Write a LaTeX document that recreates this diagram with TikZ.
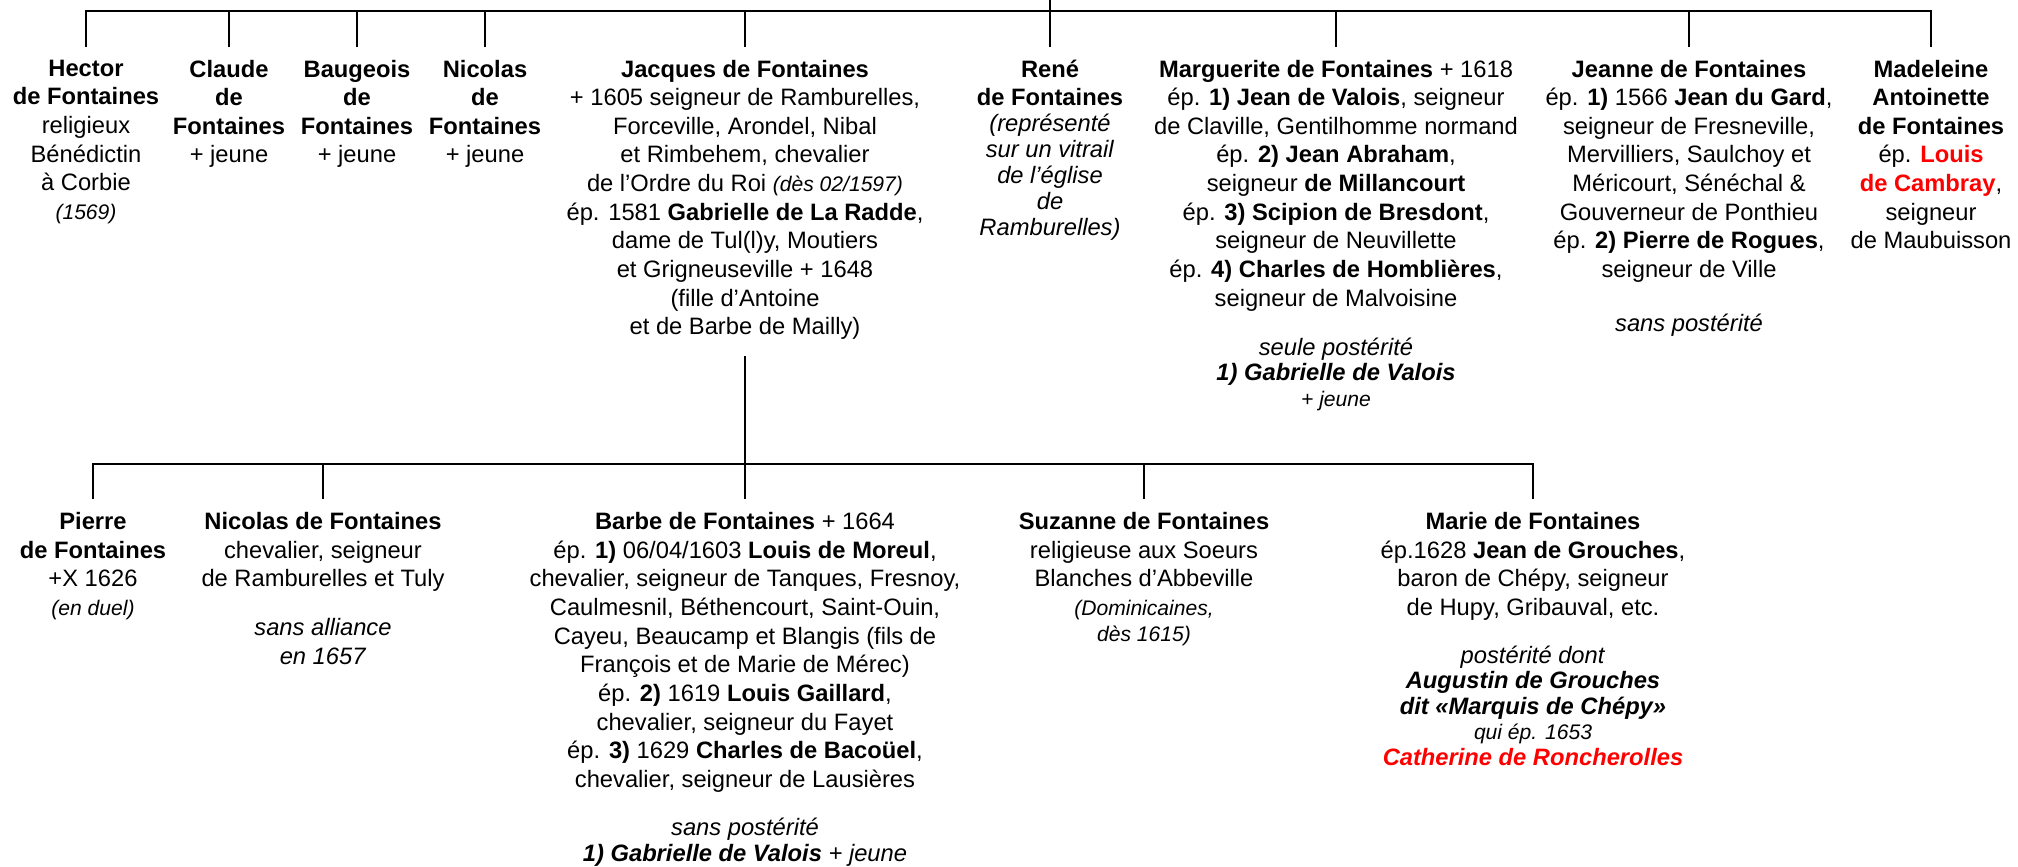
\documentclass[tikz,border=0pt]{standalone}
\usepackage{fontspec}
\setmainfont{Liberation Sans}
\usetikzlibrary{calc}
\tikzset{
  lien/.style={draw, line width=1.5pt, shorten >=7.2pt},
  personne/.style={
    anchor=north,
    align=center,
    inner sep=0pt,
    font=\fontsize{13.5pt}{16.3pt}\selectfont,
    execute at begin node=\strut},
}
\newcommand{\nota}[1]{{\fontsize{12pt}{14pt}\selectfont\itshape #1}}

\begin{document}
\begin{tikzpicture}[
    x=0.02cm, y=-0.02cm,
    rouge/.style={text=red}
    ]
    \useasboundingbox (0,0) rectangle (2018,866);

    % parents
    \coordinate (haut) at (1050,0);
    \coordinate (barre1) at (1050,11);

    % enfants
    \node[personne] (hector) at (86,59.5) {\textbf{Hector}\\ \textbf{de Fontaines}\\ religieux\\ Bénédictin\\ à Corbie\\ \nota{(1569)}};
    \node[personne] (claude) at (229,59.5) {\textbf{Claude}\\ \textbf{de}\\ \textbf{Fontaines}\\ + jeune};
    \node[personne] (baugeois) at (357,59.5) {\textbf{Baugeois}\\ \textbf{de}\\ \textbf{Fontaines}\\ + jeune};
    \node[personne] (nicolas) at (485,59.5) {\textbf{Nicolas}\\ \textbf{de}\\ \textbf{Fontaines}\\ + jeune};
    \node[personne] (jacques) at (745,59.5) {\textbf{Jacques de Fontaines}\\ + 1605 seigneur de Ramburelles,\\ Forceville, Arondel, Nibal\\ et Rimbehem, chevalier\\ de l’Ordre du Roi \nota{(dès 02/1597)}\\ ép. 1581 \textbf{Gabrielle de La Radde},\\ dame de Tul(l)y, Moutiers\\ et Grigneuseville + 1648\\ (fille d’Antoine\\ et de Barbe de Mailly)};
    \node[personne] (rene) at (1050,59.5) {\textbf{René}\\ \textbf{de Fontaines}\\[-1.5pt] \textit{(représenté}\\[-1.5pt] \textit{sur un vitrail}\\[-1.5pt] \textit{de l’église}\\[-1.5pt] \textit{de}\\[-1.5pt] \textit{Ramburelles)}};
    \node[personne] (marguerite) at (1336,59.5) {\textbf{Marguerite de Fontaines} + 1618\\ ép. \textbf{1) Jean de Valois}, seigneur\\ de Claville, Gentilhomme normand\\ ép. \textbf{2) Jean Abraham},\\ seigneur \textbf{de Millancourt}\\ ép. \textbf{3) Scipion de Bresdont},\\ seigneur de Neuvillette\\ ép. \textbf{4) Charles de Homblières},\\ seigneur de Malvoisine\\[11.6pt] \textit{seule postérité}\\[-2pt] \textbf{\textit{1) Gabrielle de Valois}}\\[-1.5pt] \nota{+ jeune}};
    \node[personne] (jeanne) at (1689,59.5) {\textbf{Jeanne de Fontaines}\\ ép. \textbf{1)} 1566 \textbf{Jean du Gard},\\ seigneur de Fresneville,\\ Mervilliers, Saulchoy et\\ Méricourt, Sénéchal \&\\ Gouverneur de Ponthieu\\ ép. \textbf{2) Pierre de Rogues},\\ seigneur de Ville\\[14.4pt] \textit{sans postérité}};
    \node[personne] (madeleine) at (1931,59.5) {\textbf{Madeleine}\\ \textbf{Antoinette}\\ \textbf{de Fontaines}\\ ép. \textcolor{red}{\textbf{Louis}}\\ \textcolor{red}{\textbf{de Cambray}},\\ seigneur\\ de Maubuisson};

    \draw[lien] (haut) -- (rene.north);
    \draw[lien] (barre1) -| (hector.north);
    \draw[lien] (barre1) -| (madeleine.north);
    \foreach \enfant in {claude, baugeois, nicolas, jacques, marguerite, jeanne}
      \draw[lien] (\enfant.north |- barre1) -- (\enfant.north);

    % petits-enfants
    \coordinate (barre2) at (745,464);

    \node[personne] (pierre) at (93,512) {\textbf{Pierre}\\ \textbf{de Fontaines}\\ +X 1626\\ \nota{(en duel)}};
    \node[personne] (nicolasfils) at (323,512) {\textbf{Nicolas de Fontaines}\\ chevalier, seigneur\\ de Ramburelles et Tuly\\[11.6pt] \textit{sans alliance}\\ \textit{en 1657}};
    \node[personne] (barbe) at (745,512) {\textbf{Barbe de Fontaines} + 1664\\ ép. \textbf{1)} 06/04/1603 \textbf{Louis de Moreul},\\ chevalier, seigneur de Tanques, Fresnoy,\\ Caulmesnil, Béthencourt, Saint-Ouin,\\ Cayeu, Beaucamp et Blangis (fils de\\ François et de Marie de Mérec)\\ ép. \textbf{2)} 1619 \textbf{Louis Gaillard},\\ chevalier, seigneur du Fayet\\ ép. \textbf{3)} 1629 \textbf{Charles de Bacoüel},\\ chevalier, seigneur de Lausières\\[11pt] \textit{sans postérité}\\[-1.5pt] \textbf{\textit{1) Gabrielle de Valois}} \textit{+ jeune}};
    \node[personne] (suzanne) at (1144,512) {\textbf{Suzanne de Fontaines}\\ religieuse aux Soeurs\\ Blanches d’Abbeville\\ \nota{(Dominicaines,}\\[-1.5pt] \nota{dès 1615)}};
    \node[personne] (marie) at (1533,512) {\textbf{Marie de Fontaines}\\ ép.1628 \textbf{Jean de Grouches},\\ baron de Chépy, seigneur\\ de Hupy, Gribauval, etc.\\[11pt] \textit{postérité dont}\\[-1.8pt] \textbf{\textit{Augustin de Grouches}}\\[-1.8pt] \textbf{\textit{dit «Marquis de Chépy»}}\\[-1.8pt] \nota{qui ép. 1653}\\[-1.8pt] \textcolor{red}{\textbf{\textit{Catherine de Roncherolles}}}};

    \draw[lien] (barre2) -- (jacques.south);
    \draw[lien] (barre2) -- (barbe.north);
    \draw[lien] (barre2) -| (pierre.north);
    \draw[lien] (barre2) -| (marie.north);
    \foreach \enfant in {nicolasfils, suzanne}
      \draw[lien] (\enfant.north |- barre2) -- (\enfant.north);

\end{tikzpicture}
\end{document}
